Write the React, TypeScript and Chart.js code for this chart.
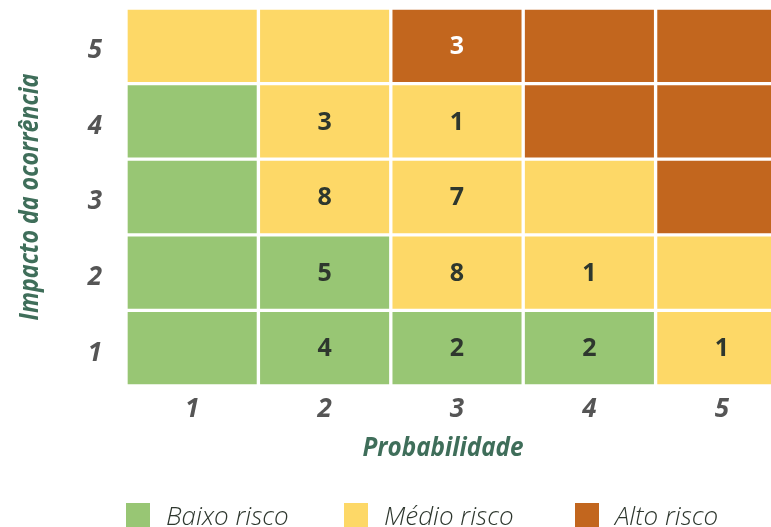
import React, { useEffect, useRef } from "react";
import { Chart, registerables } from "chart.js";

Chart.register(...registerables);

const probabilidade = ["1", "2", "3", "4", "5"];
const impacto = ["1", "2", "3", "4", "5"];

// risk level per impact row (1..5), columns = probabilidade 1..5
const riscoImpacto1 = ["B", "B", "B", "B", "M"];
const riscoImpacto2 = ["B", "B", "M", "M", "M"];
const riscoImpacto3 = ["B", "M", "M", "M", "A"];
const riscoImpacto4 = ["B", "M", "M", "A", "A"];
const riscoImpacto5 = ["M", "M", "A", "A", "A"];

// number of risks per cell
const contagemImpacto1 = [null, 4, 2, 2, 1];
const contagemImpacto2 = [null, 5, 8, 1, null];
const contagemImpacto3 = [null, 8, 7, null, null];
const contagemImpacto4 = [null, 3, 1, null, null];
const contagemImpacto5 = [null, null, 3, null, null];

const legendaLabels = ["Baixo risco", "Médio risco", "Alto risco"];
const legendaCodes = ["B", "M", "A"];

const COLORS: Record<string, string> = {
  B: "#98c674",
  M: "#fdd867",
  A: "#c2661e",
};

const FAMILY = "'Open Sans', 'DejaVu Sans', sans-serif";

export default function App() {
  const ref = useRef<HTMLCanvasElement | null>(null);

  useEffect(() => {
    if (!ref.current) return;
    const riscos = [riscoImpacto1, riscoImpacto2, riscoImpacto3, riscoImpacto4, riscoImpacto5];
    const contagens = [contagemImpacto1, contagemImpacto2, contagemImpacto3, contagemImpacto4, contagemImpacto5];

    const datasets = impacto.map((imp, i) => ({
      label: "Impacto " + imp,
      data: probabilidade.map(() => 1),
      backgroundColor: riscos[i].map((r) => COLORS[r]),
      borderColor: "#ffffff",
      borderWidth: 2,
      borderSkipped: false as const,
      barPercentage: 1,
      categoryPercentage: 1,
    }));

    const cellLabels = {
      id: "cellLabels",
      afterDatasetsDraw(chart: any) {
        const ctx = chart.ctx;
        ctx.save();
        ctx.font = "bold 25px " + FAMILY;
        ctx.textAlign = "center";
        ctx.textBaseline = "middle";
        chart.data.datasets.forEach((_: any, i: number) => {
          const meta = chart.getDatasetMeta(i);
          meta.data.forEach((el: any, j: number) => {
            const v = contagens[i][j];
            if (v === null || v === undefined) return;
            const { x, y, base } = el.getProps(["x", "y", "base"], true);
            ctx.fillStyle = riscos[i][j] === "A" ? "#ffffff" : "#2e372e";
            ctx.fillText(String(v), x, (y + base) / 2 + 1);
          });
        });
        ctx.restore();
      },
    };

    const extras = {
      id: "extras",
      afterDraw(chart: any) {
        const ctx = chart.ctx;
        const area = chart.chartArea;
        ctx.save();
        // axis titles
        try { (ctx as any).fontStretch = "semi-condensed"; } catch (e) {}
        ctx.fillStyle = "#3f6e5a";
        ctx.font = "italic bold 27px " + FAMILY;
        ctx.textAlign = "center";
        ctx.textBaseline = "alphabetic";
        ctx.save();
        ctx.translate(443, 456);
        ctx.scale(0.9, 1);
        ctx.fillText("Probabilidade", 0, 0);
        ctx.restore();
        ctx.save();
        ctx.translate(38, (area.top + area.bottom) / 2);
        ctx.rotate(-Math.PI / 2);
        ctx.scale(0.86, 1);
        ctx.fillText("Impacto da ocorrência", 0, 0);
        ctx.restore();
        // legend
        try { (ctx as any).fontStretch = "condensed"; } catch (e) {}
        const boxX = [126, 344, 575];
        ctx.font = "italic 300 26px " + FAMILY;
        ctx.textAlign = "left";
        legendaCodes.forEach((c, k) => {
          ctx.fillStyle = COLORS[c];
          ctx.fillRect(boxX[k], 503, 24, 24);
          ctx.fillStyle = "#2e372e";
          ctx.fillText(legendaLabels[k], boxX[k] + 40, 525);
        });
        ctx.restore();
      },
    };

    const tickFont = { family: FAMILY, size: 26, style: "italic" as const, weight: "bold" as any };

    const chart = new Chart(ref.current, {
      type: "bar",
      data: { labels: probabilidade, datasets },
      options: {
        animation: false,
        responsive: true,
        maintainAspectRatio: false,
        layout: { padding: { left: 0, top: 8, right: 12, bottom: 0 } },
        plugins: { legend: { display: false }, tooltip: { enabled: false } },
        scales: {
          x: {
            stacked: true,
            grid: { display: false, drawTicks: false },
            border: { display: false },
            ticks: { color: "#555555", font: tickFont, padding: 8 },
            afterFit(scale: any) {
              scale.height = 141;
              scale.paddingLeft = 0;
              scale.paddingRight = 0;
            },
          },
          y: {
            stacked: true,
            min: 0,
            max: 5,
            grid: { display: false, drawTicks: false },
            border: { display: false },
            ticks: {
              color: "#555555",
              font: tickFont,
              padding: 24,
              labelOffset: 5,
              callback: (v: any) => impacto[Math.round(Number(v) - 0.5)] ?? "",
            },
            afterBuildTicks(scale: any) {
              scale.ticks = impacto.map((_, i) => ({ value: i + 0.5 }));
            },
            afterFit(scale: any) {
              scale.width = 126;
              scale.paddingTop = 0;
              scale.paddingBottom = 0;
            },
          },
        },
      },
      plugins: [cellLabels, extras],
    });
    return () => chart.destroy();
  }, []);

  return (
    <div style={{ position: "fixed", left: 0, top: 0, width: 771, height: 527, overflow: "hidden", background: "#fff" }}>
      <div style={{ position: "relative", width: 800, height: 527 }}>
        <canvas ref={ref} />
      </div>
    </div>
  );
}
